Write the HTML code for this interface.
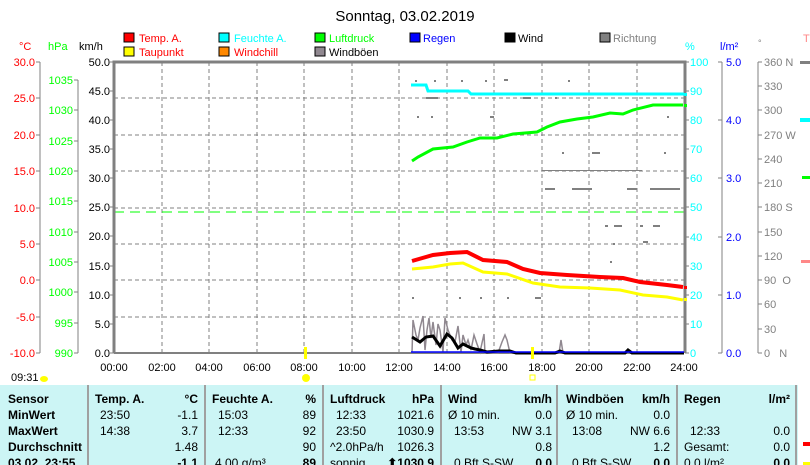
<!DOCTYPE html>
<html><head><meta charset="utf-8"><style>
body{margin:0;background:#fff;width:810px;height:465px;overflow:hidden}
svg{display:block;font-family:"Liberation Sans",sans-serif;font-size:11px}
.b{font-weight:bold;font-size:12px}
</style></head><body>
<svg width="810" height="465" xmlns="http://www.w3.org/2000/svg">
<text x="405" y="21" font-size="15" text-anchor="middle">Sonntag, 03.02.2019</text>
<!-- legend -->
<g font-size="11">
<rect x="124" y="33" width="10" height="9" fill="#f00" stroke="#000"/><text x="139" y="42" fill="#f00">Temp. A.</text>
<rect x="124" y="47" width="10" height="9" fill="#ff0" stroke="#000"/><text x="139" y="56" fill="#f00">Taupunkt</text>
<rect x="219" y="33" width="10" height="9" fill="#0ff" stroke="#000"/><text x="234" y="42" fill="#0ff">Feuchte A.</text>
<rect x="219" y="47" width="10" height="9" fill="#f80" stroke="#000"/><text x="234" y="56" fill="#f00">Windchill</text>
<rect x="315" y="33" width="10" height="9" fill="#0f0" stroke="#000"/><text x="329" y="42" fill="#0f0">Luftdruck</text>
<rect x="315" y="47" width="10" height="9" fill="#908890" stroke="#000"/><text x="329" y="56">Windböen</text>
<rect x="410" y="33" width="10" height="9" fill="#00f" stroke="#000"/><text x="423" y="42" fill="#00f">Regen</text>
<rect x="505" y="33" width="10" height="9" fill="#000" stroke="#000"/><text x="518" y="42">Wind</text>
<rect x="600" y="33" width="10" height="9" fill="#808080" stroke="#000"/><text x="613" y="42" fill="#808080">Richtung</text>
<text x="19" y="50" fill="#f00">°C</text><text x="48" y="50" fill="#0f0">hPa</text><text x="79" y="50">km/h</text>
<text x="685" y="50" fill="#0ff">%</text><text x="720" y="50" fill="#00f">l/m²</text><text x="758" y="46" fill="#808080" font-size="9">°</text>
<text x="803" y="42" fill="#f88">T</text>
</g>
<!-- grid -->
<g stroke="#808080" stroke-dasharray="4,3" stroke-width="1">
<path d="M162 62V353M209 62V353M257 62V353M304 62V353M352 62V353M399 62V353M447 62V353M494 62V353M542 62V353M589 62V353M637 62V353"/>
<path d="M114 98H684M114 135H684M114 171H684M114 208H684M114 244H684M114 280H684M114 317H684" />
</g>
<line x1="114" y1="212" x2="684" y2="212" stroke="#0f0" stroke-dasharray="10,6"/>
<!-- plot frame -->
<path d="M114 353V62H685V353" fill="none" stroke="#808080" stroke-width="3"/>
<line x1="114" y1="353" x2="684" y2="353" stroke="#808080" stroke-width="2"/>
<!-- left axes -->
<g stroke="#808080"><path d="M40 62V353M78 80V353"/>
<path d="M36 62h4M36 98h4M36 135h4M36 171h4M36 208h4M36 244h4M36 280h4M36 317h4M36 353h4"/>
<path d="M74 80h4M74 110h4M74 141h4M74 171h4M74 201h4M74 232h4M74 262h4M74 292h4M74 323h4M74 353h4"/>
<path d="M110 62h4M110 91h4M110 120h4M110 149h4M110 178h4M110 207h4M110 236h4M110 266h4M110 295h4M110 324h4M110 353h4"/></g>
<g fill="#f00" text-anchor="end">
<text x="35" y="66">30.0</text><text x="35" y="102">25.0</text><text x="35" y="139">20.0</text><text x="35" y="175">15.0</text><text x="35" y="212">10.0</text><text x="35" y="248">5.0</text><text x="35" y="284">0.0</text><text x="35" y="321">-5.0</text><text x="35" y="357">-10.0</text></g>
<g fill="#0f0" text-anchor="end">
<text x="73" y="84">1035</text><text x="73" y="114">1030</text><text x="73" y="145">1025</text><text x="73" y="175">1020</text><text x="73" y="205">1015</text><text x="73" y="236">1010</text><text x="73" y="266">1005</text><text x="73" y="296">1000</text><text x="73" y="327">995</text><text x="73" y="357">990</text></g>
<g text-anchor="end">
<text x="110" y="66">50.0</text><text x="110" y="95">45.0</text><text x="110" y="124">40.0</text><text x="110" y="153">35.0</text><text x="110" y="182">30.0</text><text x="110" y="211">25.0</text><text x="110" y="240">20.0</text><text x="110" y="270">15.0</text><text x="110" y="299">10.0</text><text x="110" y="328">5.0</text><text x="110" y="357">0.0</text></g>
<!-- right axes -->
<g stroke="#808080"><path d="M722 62V353M758 62V353"/>
<path d="M685 62h4M685 91h4M685 120h4M685 149h4M685 178h4M685 207h4M685 237h4M685 266h4M685 295h4M685 324h4M685 353h4"/>
<path d="M718 62h4M718 120h4M718 178h4M718 237h4M718 295h4M718 353h4"/>
<path d="M758 62h4M758 86h4M758 110h4M758 135h4M758 159h4M758 183h4M758 207h4M758 232h4M758 256h4M758 280h4M758 304h4M758 329h4M758 353h4"/></g>
<g fill="#0ff"><text x="690" y="66">100</text><text x="690" y="95">90</text><text x="690" y="124">80</text><text x="690" y="153">70</text><text x="690" y="182">60</text><text x="690" y="211">50</text><text x="690" y="241">40</text><text x="690" y="270">30</text><text x="690" y="299">20</text><text x="690" y="328">10</text><text x="690" y="357">0</text></g>
<g fill="#00f"><text x="726" y="66">5.0</text><text x="726" y="124">4.0</text><text x="726" y="182">3.0</text><text x="726" y="241">2.0</text><text x="726" y="299">1.0</text><text x="726" y="357">0.0</text></g>
<g fill="#808080"><text x="764" y="66">360 N</text><text x="764" y="90">330</text><text x="764" y="114">300</text><text x="764" y="139">270 W</text><text x="764" y="163">240</text><text x="764" y="187">210</text><text x="764" y="211">180 S</text><text x="764" y="236">150</text><text x="764" y="260">120</text><text x="764" y="284">90&#160;&#160;O</text><text x="764" y="308">60</text><text x="764" y="333">30</text><text x="764" y="357">0&#160;&#160;&#160;N</text></g>
<rect x="800" y="61" width="10" height="3" fill="#808080"/><rect x="800" y="118" width="10" height="4" fill="#0ff"/><rect x="802" y="176" width="8" height="3" fill="#0f0"/><rect x="801" y="260" width="9" height="3" fill="#f88"/>
<rect x="684" y="93" width="3" height="3" fill="#0ff"/><rect x="684" y="104" width="3" height="3" fill="#0f0"/><rect x="684" y="286" width="3" height="3" fill="#f00"/><rect x="684" y="298" width="3" height="3" fill="#ff0"/>
<!-- direction scatter -->
<g fill="#808080">
<rect x="415" y="80" width="2" height="2"/><rect x="434" y="80" width="2" height="2"/><rect x="461" y="80" width="2" height="2"/><rect x="485" y="80" width="2" height="2"/><rect x="504" y="79" width="4" height="2"/><rect x="568" y="80" width="2" height="2"/>
<rect x="426" y="97" width="12" height="2"/><rect x="523" y="97" width="8" height="2"/><rect x="555" y="97" width="2" height="2"/>
<rect x="417" y="116" width="2" height="2"/><rect x="431" y="116" width="2" height="2"/><rect x="490" y="116" width="4" height="2"/><rect x="667" y="116" width="2" height="2"/>
<rect x="562" y="152" width="2" height="2"/><rect x="592" y="152" width="8" height="2"/><rect x="664" y="152" width="2" height="2"/>
<rect x="542" y="170" width="100" height="1"/><rect x="545" y="188" width="10" height="2"/><rect x="572" y="188" width="20" height="2"/><rect x="627" y="188" width="10" height="2"/><rect x="650" y="188" width="30" height="2"/>
<rect x="605" y="225" width="3" height="2"/><rect x="614" y="225" width="8" height="2"/><rect x="640" y="225" width="3" height="2"/><rect x="653" y="225" width="7" height="2"/>
<rect x="613" y="243" width="2" height="2"/><rect x="643" y="241" width="5" height="2"/><rect x="610" y="261" width="2" height="2"/><rect x="412" y="297" width="2" height="2"/><rect x="459" y="297" width="2" height="2"/><rect x="480" y="297" width="2" height="2"/><rect x="507" y="297" width="2" height="2"/><rect x="535" y="297" width="6" height="2"/>
</g>
<!-- series -->
<polyline fill="none" stroke="#0ff" stroke-width="3" points="411,85 426,85 428,91 468,91 471,94 684,94"/>
<polyline fill="none" stroke="#0f0" stroke-width="3" points="412,161 418,157 433,149 453,147 467,142 480,138 497,138 513,134 537,132 547,127 560,122 577,119 593,117 610,113 623,114 633,110 653,105 683,105"/>
<polyline fill="none" stroke="#f00" stroke-width="4" points="412,261 433,255 450,253 467,252 483,260 507,262 523,269 540,273 567,275 600,277 623,278 640,282 667,285 683,287"/>
<polyline fill="none" stroke="#ff0" stroke-width="3" points="412,269 433,267 450,264 463,263 483,272 507,274 533,283 560,287 590,288 620,290 643,295 667,297 683,300"/>
<polyline fill="none" stroke="#908890" stroke-width="1.5" points="412,353 413,320 416,335 418,340 420,328 423,316 425,350 427,330 429,318 431,338 433,322 436,345 438,324 440,330 443,352 445,318 448,330 452,340 455,342 458,326 461,352 463,335 466,345 468,340 471,350 474,335 477,344 480,352 484,334 485,353 498,353 502,342 505,335 507,340 510,353 559,353 561,340 563,353"/>
<polyline fill="none" stroke="#000" stroke-width="3" points="412,337 420,342 426,337 433,336 440,346 447,334 452,338 458,348 463,344 467,346 471,348 475,349 480,350 487,352 499,351 510,351 516,353 555,353 560,351 565,353 625,353 628,350 632,353 684,353"/>
<line x1="411" y1="352" x2="684" y2="352" stroke="#00f" stroke-width="1.5"/>
<rect x="304" y="347" width="3" height="12" fill="#ff0"/><rect x="531" y="347" width="3" height="12" fill="#ff0"/>
<!-- x labels -->
<g text-anchor="middle"><text x="114" y="371">00:00</text><text x="162" y="371">02:00</text><text x="209" y="371">04:00</text><text x="257" y="371">06:00</text><text x="304" y="371">08:00</text><text x="352" y="371">10:00</text><text x="399" y="371">12:00</text><text x="447" y="371">14:00</text><text x="494" y="371">16:00</text><text x="542" y="371">18:00</text><text x="589" y="371">20:00</text><text x="637" y="371">22:00</text><text x="684" y="371">24:00</text></g>
<text x="11" y="381">09:31</text><ellipse cx="44" cy="379" rx="4" ry="3" fill="#ff0"/>
<circle cx="306" cy="378" r="4" fill="#ff0"/><rect x="530" y="375" width="5" height="5" fill="none" stroke="#ff0"/>
<!-- table -->
<rect x="0" y="385" width="810" height="80" fill="#ccf5f5"/>
<g stroke="#a0a0a0" stroke-width="2"><path d="M88 385V465M205 385V465M323 385V465M441 385V465M557 385V465M677 385V465M796 385V465"/></g>
<rect x="798" y="385" width="12" height="80" fill="#fff"/><rect x="803" y="442" width="7" height="4" fill="#f00"/><rect x="803" y="462" width="7" height="3" fill="#ff0"/>
<g class="b"><text x="8" y="403">Sensor</text><text x="8" y="419">MinWert</text><text x="8" y="435">MaxWert</text><text x="8" y="451">Durchschnitt</text><text x="8" y="467">03.02. 23:55</text>
<text x="95" y="403">Temp. A.</text><text x="198" y="403" text-anchor="end">°C</text>
<text x="212" y="403">Feuchte A.</text><text x="316" y="403" text-anchor="end">%</text>
<text x="330" y="403">Luftdruck</text><text x="434" y="403" text-anchor="end">hPa</text>
<text x="448" y="403">Wind</text><text x="552" y="403" text-anchor="end">km/h</text>
<text x="566" y="403">Windböen</text><text x="670" y="403" text-anchor="end">km/h</text>
<text x="684" y="403">Regen</text><text x="790" y="403" text-anchor="end">l/m²</text></g>
<g font-size="12">
<text x="100" y="419">23:50</text><text x="198" y="419" text-anchor="end">-1.1</text>
<text x="100" y="435">14:38</text><text x="198" y="435" text-anchor="end">3.7</text>
<text x="198" y="451" text-anchor="end">1.48</text><text x="198" y="467" text-anchor="end" font-weight="bold">-1.1</text>
<text x="218" y="419">15:03</text><text x="316" y="419" text-anchor="end">89</text>
<text x="218" y="435">12:33</text><text x="316" y="435" text-anchor="end">92</text>
<text x="316" y="451" text-anchor="end">90</text><text x="215" y="467">4.00 g/m³</text><text x="316" y="467" text-anchor="end" font-weight="bold">89</text>
<text x="336" y="419">12:33</text><text x="434" y="419" text-anchor="end">1021.6</text>
<text x="336" y="435">23:50</text><text x="434" y="435" text-anchor="end">1030.9</text>
<text x="330" y="451">^2.0hPa/h</text><text x="434" y="451" text-anchor="end">1026.3</text>
<text x="330" y="467">sonnig</text><text x="434" y="467" text-anchor="end" font-weight="bold">⬆1030.9</text>
<text x="448" y="419">Ø 10 min.</text><text x="552" y="419" text-anchor="end">0.0</text>
<text x="454" y="435">13:53</text><text x="552" y="435" text-anchor="end">NW 3.1</text>
<text x="552" y="451" text-anchor="end">0.8</text><text x="454" y="467">0 Bft S-SW</text><text x="552" y="467" text-anchor="end" font-weight="bold">0.0</text>
<text x="566" y="419">Ø 10 min.</text><text x="670" y="419" text-anchor="end">0.0</text>
<text x="572" y="435">13:08</text><text x="670" y="435" text-anchor="end">NW 6.6</text>
<text x="670" y="451" text-anchor="end">1.2</text><text x="572" y="467">0 Bft S-SW</text><text x="670" y="467" text-anchor="end" font-weight="bold">0.0</text>
<text x="690" y="435">12:33</text><text x="790" y="435" text-anchor="end">0.0</text>
<text x="684" y="451">Gesamt:</text><text x="790" y="451" text-anchor="end">0.0</text>
<text x="684" y="467">0.0 l/m²</text><text x="790" y="467" text-anchor="end" font-weight="bold">0.0</text>
</g>
</svg>
</body></html>
